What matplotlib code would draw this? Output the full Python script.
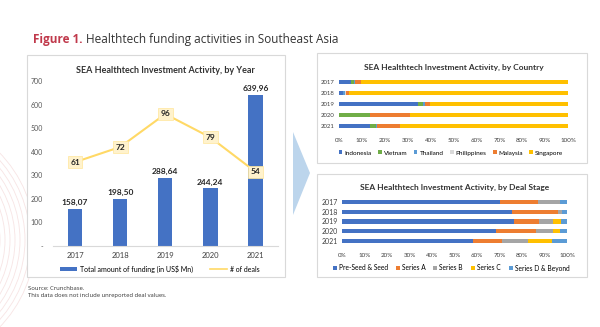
import matplotlib.pyplot as plt
import numpy as np
from matplotlib.patches import Rectangle, Polygon, Arc
from matplotlib.lines import Line2D

# data
years = ['2017', '2018', '2019', '2020', '2021']
funding = [158.07, 198.50, 288.64, 244.24, 639.96]
deals = [61, 72, 96, 79, 54]

countries = ['Indonesia', 'Vietnam', 'Thailand', 'Philippines', 'Malaysia', 'Singapore']
country_share = {
    'Indonesia':   [5.4, 1.7, 34.5, 0.0, 13.5],
    'Vietnam':     [1.0, 0.0, 2.0, 13.5, 2.5],
    'Thailand':    [0.6, 1.0, 1.0, 0.0, 0.5],
    'Philippines': [0.0, 0.4, 0.0, 0.0, 0.0],
    'Malaysia':    [2.8, 1.4, 2.3, 17.5, 10.0],
    'Singapore':   [90.2, 95.5, 60.2, 69.0, 73.5],
}
country_colors = ['#4472C4', '#70AD47', '#5B9BD5', '#D9D9D9', '#ED7D31', '#FFC000']

stages = ['Pre-Seed & Seed', 'Series A', 'Series B', 'Series C', 'Series D & Beyond']
stage_share = {
    'Pre-Seed & Seed':   [70.0, 75.6, 76.3, 68.3, 58.0],
    'Series A':          [17.0, 20.4, 11.1, 18.1, 13.3],
    'Series B':          [9.7, 1.8, 6.4, 7.4, 11.4],
    'Series C':          [0.0, 0.0, 3.7, 2.9, 10.8],
    'Series D & Beyond': [3.3, 2.2, 2.5, 3.3, 6.5],
}
stage_colors = ['#4472C4', '#ED7D31', '#A5A5A5', '#FFC000', '#5B9BD5']

W, H = 600, 327
plt.rcParams['font.family'] = ['Lato', 'DejaVu Sans']
fig = plt.figure(figsize=(6, 3.27), dpi=100)


def rect(x0, y0, x1, y1):
    # pixel box -> figure fraction [left, bottom, width, height]
    return [x0 / W, 1 - y1 / H, (x1 - x0) / W, (y1 - y0) / H]


def fxy(x, y):
    return (x / W, 1 - y / H)


# faint decorative arcs, lower left
for r in range(85, 130, 5):
    fig.patches.append(Arc(fxy(-90, 240), 2 * r / W, 2 * r / H, theta1=-90, theta2=90,
                           transform=fig.transFigure, color='#F7E4E4', lw=0.6, zorder=-3))

# panel frames (white fill hides the arcs, drawn under the axes)
for x0, y0, x1, y1 in [(27, 55, 285, 277), (317, 53, 587, 163), (317, 174, 587, 277)]:
    fig.patches.append(Rectangle(fxy(x0, y1), (x1 - x0) / W, (y1 - y0) / H,
                                 transform=fig.transFigure, fc='white', ec='#D9D9D9', lw=0.8,
                                 zorder=-2))

# arrow between panels
fig.patches.append(Polygon([fxy(293, 132), fxy(310, 173), fxy(293, 215)], closed=True,
                           transform=fig.transFigure, fc='#BCD5EC', ec='none'))

# heading
fig.text(33 / W, 1 - 40 / H, 'Figure 1.', color='#C0394B', fontsize=8.5, fontweight='bold',
         family='Open Sans', va='center')
fig.text(86 / W, 1 - 40 / H, 'Healthtech funding activities in Southeast Asia', color='#333333',
         fontsize=8.5, family='Open Sans', va='center')

# ---- left: by year ----
ax = fig.add_axes(rect(52.5, 81, 278, 246))
ax.patch.set_alpha(0)
x = np.arange(len(years))
ax.bar(x, funding, width=0.32, color='#4472C4', zorder=2)
ax.set_xlim(-0.5, 4.5)
ax.set_ylim(0, 700)
ax.set_yticks(range(0, 800, 100))
ax.set_yticklabels(['-'] + [str(v) for v in range(100, 800, 100)])
ax.set_xticks(x)
ax.set_xticklabels(years)
ax.tick_params(axis='y', length=0, labelsize=5, colors='#595959', pad=7)
ax.tick_params(axis='x', length=0, labelsize=5.5, colors='#404040', pad=4)
for s in ['top', 'right', 'left']:
    ax.spines[s].set_visible(False)
ax.spines['bottom'].set_color('#D9D9D9')
for xi, v in zip(x, funding):
    ax.text(xi, v + 12, f'{v:.2f}'.replace('.', ','), ha='center', va='bottom',
            fontsize=6, fontweight='bold', color='#262626')
ax.set_title('SEA Healthtech Investment Activity, by Year', fontsize=6.5, fontweight='bold',
             color='#333333', pad=6)

ax2 = ax.twinx()
ax2.plot(x, deals, color='#FFD966', lw=1.5, zorder=3)
ax2.set_ylim(0, 120)
ax2.axis('off')
for xi, v in zip(x, deals):
    ax2.text(xi, v, str(v), ha='center', va='center', fontsize=6, fontweight='bold',
             color='#262626',
             bbox=dict(boxstyle='square,pad=0.3', fc='#FFF2CC', ec='#FFE699', lw=0.5))

handles = [Rectangle((0, 0), 1, 1, fc='#4472C4'), Line2D([], [], color='#FFD966', lw=1.2)]
fig.legend(handles, ['Total amount of funding (in US$ Mn)', '# of deals'],
           loc='center', bbox_to_anchor=fxy(160, 269), ncol=2, frameon=False, fontsize=5,
           handlelength=2.4, handleheight=0.5, columnspacing=2.5, handletextpad=0.4)


def stacked(ax, shares, names, colors, height):
    ax.patch.set_alpha(0)
    left = np.zeros(len(years))
    yy = np.arange(len(years))
    for name, c in zip(names, colors):
        vals = np.array(shares[name])
        ax.barh(yy, vals, left=left, height=height, color=c, label=name)
        left += vals
    ax.set_xlim(0, 100)
    ax.set_ylim(4.5, -0.5)
    ax.set_yticks(yy)
    ax.set_yticklabels(years)
    ax.set_xticks(range(0, 101, 10))
    ax.set_xticklabels([f'{v}%' for v in range(0, 101, 10)])
    ax.tick_params(length=0, colors='#404040')
    for s in ax.spines.values():
        s.set_visible(False)


# ---- right top: by country ----
axc = fig.add_axes(rect(339, 76.5, 568, 131.5))
stacked(axc, country_share, countries, country_colors, 0.4)
axc.tick_params(axis='y', labelsize=4.3, pad=3)
axc.tick_params(axis='x', labelsize=4.5, pad=5)
axc.set_title('SEA Healthtech Investment Activity, by Country', fontsize=6, fontweight='bold',
              color='#333333', pad=5)
fig.legend(*axc.get_legend_handles_labels(), loc='center', bbox_to_anchor=fxy(451, 153),
           ncol=6, frameon=False, fontsize=4.6, handlelength=0.6, handleheight=0.6,
           handletextpad=0.3, columnspacing=1.0)

# ---- right bottom: by deal stage ----
axs = fig.add_axes(rect(342, 197, 567, 246))
stacked(axs, stage_share, stages, stage_colors, 0.42)
axs.tick_params(axis='y', labelsize=5, pad=3)
axs.tick_params(axis='x', labelsize=4.5, pad=5)
axs.set_title('SEA Healthtech Investment Activity, by Deal Stage', fontsize=6, fontweight='bold',
              color='#333333', pad=5)
fig.legend(*axs.get_legend_handles_labels(), loc='center', bbox_to_anchor=fxy(451, 268),
           ncol=5, frameon=False, fontsize=4.8, handlelength=0.6, handleheight=0.6,
           handletextpad=0.3, columnspacing=1.2)

# footnote
fig.text(28 / W, 1 - 288 / H, 'Source: Crunchbase.', fontsize=4.2, color='#333333',
         family='Open Sans', va='center')
fig.text(28 / W, 1 - 296 / H, 'This data does not include unreported deal values.', fontsize=4.2,
         color='#333333', family='Open Sans', va='center')

fig.savefig('out.png', dpi=100)
